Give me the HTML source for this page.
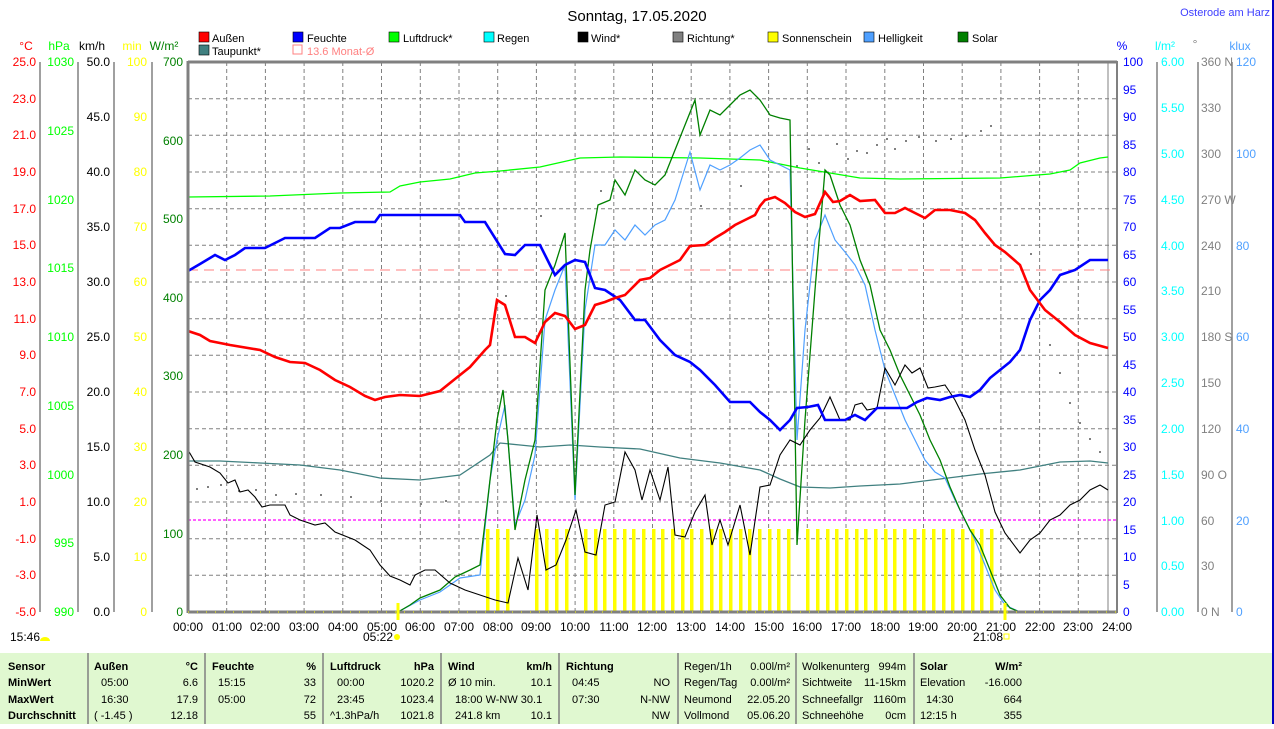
<!DOCTYPE html>
<html><head><meta charset="utf-8"><style>
html,body{margin:0;padding:0;background:#fff;}
body{width:1274px;height:724px;overflow:hidden;position:relative;font-family:"Liberation Sans",sans-serif;}
svg text{font-family:"Liberation Sans",sans-serif;font-size:12px;}
</style></head><body>
<svg width="1274" height="724" viewBox="0 0 1274 724" xmlns="http://www.w3.org/2000/svg">
<rect x="0" y="0" width="1274" height="724" fill="#fff"/>
<line x1="1273" y1="0" x2="1273" y2="724" stroke="#0000c0" stroke-width="2"/>
<text x="637" y="21" text-anchor="middle" font-size="15" style="font-size:15px" fill="#000">Sonntag, 17.05.2020</text>
<text x="1270" y="16" text-anchor="end" fill="#4040ff" style="font-size:11px">Osterode am Harz</text>

<!-- legend -->
<g style="font-size:11px">
<rect x="199" y="32" width="10" height="10" fill="#f00" stroke="#000" stroke-width="0.6"/><text x="212" y="42" style="font-size:11px">Außen</text>
<rect x="293" y="32" width="10" height="10" fill="#00f" stroke="#000" stroke-width="0.6"/><text x="307" y="42" style="font-size:11px">Feuchte</text>
<rect x="389" y="32" width="10" height="10" fill="#0f0" stroke="#000" stroke-width="0.6"/><text x="403" y="42" style="font-size:11px">Luftdruck*</text>
<rect x="484" y="32" width="10" height="10" fill="#0ff" stroke="#000" stroke-width="0.6"/><text x="497" y="42" style="font-size:11px">Regen</text>
<rect x="578" y="32" width="10" height="10" fill="#000" stroke="#000" stroke-width="0.6"/><text x="591" y="42" style="font-size:11px">Wind*</text>
<rect x="673" y="32" width="10" height="10" fill="#808080" stroke="#000" stroke-width="0.6"/><text x="687" y="42" style="font-size:11px">Richtung*</text>
<rect x="768" y="32" width="10" height="10" fill="#ff0" stroke="#000" stroke-width="0.6"/><text x="782" y="42" style="font-size:11px">Sonnenschein</text>
<rect x="864" y="32" width="10" height="10" fill="#4fa0ff" stroke="#000" stroke-width="0.6"/><text x="878" y="42" style="font-size:11px">Helligkeit</text>
<rect x="958" y="32" width="10" height="10" fill="#008000" stroke="#000" stroke-width="0.6"/><text x="972" y="42" style="font-size:11px">Solar</text>
<rect x="199" y="45" width="10" height="10" fill="#408080" stroke="#000" stroke-width="0.6"/><text x="212" y="55" style="font-size:11px">Taupunkt*</text>
<rect x="293" y="45" width="9" height="9" fill="none" stroke="#ff8080" stroke-width="1"/><text x="307" y="55" fill="#ff8080" style="font-size:11px">13.6 Monat-Ø</text>
</g>

<!-- axis headers -->
<text x="26" y="50" text-anchor="middle" fill="#f00">°C</text>
<text x="59" y="50" text-anchor="middle" fill="#0f0">hPa</text>
<text x="92" y="50" text-anchor="middle">km/h</text>
<text x="132" y="50" text-anchor="middle" fill="#ff0">min</text>
<text x="164" y="50" text-anchor="middle" fill="#008000">W/m²</text>
<text x="1122" y="50" text-anchor="middle" fill="#00f">%</text>
<text x="1165" y="50" text-anchor="middle" fill="#0ff">l/m²</text>
<text x="1195" y="48" text-anchor="middle" fill="#808080">°</text>
<text x="1240" y="50" text-anchor="middle" fill="#4fa0ff">klux</text>

<!-- grid -->
<g stroke="#808080" stroke-dasharray="4,3" stroke-width="1">
<line x1="188" y1="98.7" x2="1117" y2="98.7"/><line x1="188" y1="135.3" x2="1117" y2="135.3"/>
<line x1="188" y1="172" x2="1117" y2="172"/><line x1="188" y1="208.7" x2="1117" y2="208.7"/>
<line x1="188" y1="245.3" x2="1117" y2="245.3"/><line x1="188" y1="282" x2="1117" y2="282"/>
<line x1="188" y1="318.7" x2="1117" y2="318.7"/><line x1="188" y1="355.3" x2="1117" y2="355.3"/>
<line x1="188" y1="392" x2="1117" y2="392"/><line x1="188" y1="428.7" x2="1117" y2="428.7"/>
<line x1="188" y1="465.3" x2="1117" y2="465.3"/><line x1="188" y1="502" x2="1117" y2="502"/>
<line x1="188" y1="538.7" x2="1117" y2="538.7"/><line x1="188" y1="575.3" x2="1117" y2="575.3"/>
<line x1="226.7" y1="62" x2="226.7" y2="612"/><line x1="265.4" y1="62" x2="265.4" y2="612"/>
<line x1="304.1" y1="62" x2="304.1" y2="612"/><line x1="342.8" y1="62" x2="342.8" y2="612"/>
<line x1="381.5" y1="62" x2="381.5" y2="612"/><line x1="420.3" y1="62" x2="420.3" y2="612"/>
<line x1="459" y1="62" x2="459" y2="612"/><line x1="497.7" y1="62" x2="497.7" y2="612"/>
<line x1="536.4" y1="62" x2="536.4" y2="612"/><line x1="575.1" y1="62" x2="575.1" y2="612"/>
<line x1="613.8" y1="62" x2="613.8" y2="612"/><line x1="652.5" y1="62" x2="652.5" y2="612"/>
<line x1="691.2" y1="62" x2="691.2" y2="612"/><line x1="729.9" y1="62" x2="729.9" y2="612"/>
<line x1="768.6" y1="62" x2="768.6" y2="612"/><line x1="807.3" y1="62" x2="807.3" y2="612"/>
<line x1="846" y1="62" x2="846" y2="612"/><line x1="884.8" y1="62" x2="884.8" y2="612"/>
<line x1="923.5" y1="62" x2="923.5" y2="612"/><line x1="962.2" y1="62" x2="962.2" y2="612"/>
<line x1="1000.9" y1="62" x2="1000.9" y2="612"/><line x1="1039.6" y1="62" x2="1039.6" y2="612"/>
<line x1="1078.3" y1="62" x2="1078.3" y2="612"/>
</g>
<line x1="1108" y1="62" x2="1108" y2="612" stroke="#808080" stroke-width="1"/>

<!-- sunshine bars -->
<g fill="#ff0">
<rect x="486" y="529" width="3.5" height="83"/><rect x="496" y="529" width="3.5" height="83"/><rect x="506" y="529" width="3.5" height="83"/>
<rect x="535" y="529" width="3.5" height="83"/><rect x="545" y="529" width="3.5" height="83"/><rect x="555" y="529" width="3.5" height="83"/><rect x="565" y="529" width="3.5" height="83"/>
<rect x="584" y="529" width="3.5" height="83"/><rect x="594" y="529" width="3.5" height="83"/><rect x="603" y="529" width="3.5" height="83"/><rect x="613" y="529" width="3.5" height="83"/><rect x="623" y="529" width="3.5" height="83"/><rect x="632" y="529" width="3.5" height="83"/><rect x="642" y="529" width="3.5" height="83"/><rect x="652" y="529" width="3.5" height="83"/><rect x="661" y="529" width="3.5" height="83"/><rect x="671" y="529" width="3.5" height="83"/><rect x="681" y="529" width="3.5" height="83"/><rect x="690" y="529" width="3.5" height="83"/><rect x="700" y="529" width="3.5" height="83"/><rect x="710" y="529" width="3.5" height="83"/><rect x="719" y="529" width="3.5" height="83"/><rect x="729" y="529" width="3.5" height="83"/><rect x="739" y="529" width="3.5" height="83"/><rect x="748" y="529" width="3.5" height="83"/><rect x="758" y="529" width="3.5" height="83"/><rect x="768" y="529" width="3.5" height="83"/><rect x="777" y="529" width="3.5" height="83"/><rect x="787" y="529" width="3.5" height="83"/>
<rect x="806" y="529" width="3.5" height="83"/><rect x="816" y="529" width="3.5" height="83"/><rect x="826" y="529" width="3.5" height="83"/><rect x="835" y="529" width="3.5" height="83"/><rect x="845" y="529" width="3.5" height="83"/><rect x="855" y="529" width="3.5" height="83"/><rect x="864" y="529" width="3.5" height="83"/><rect x="874" y="529" width="3.5" height="83"/><rect x="884" y="529" width="3.5" height="83"/><rect x="893" y="529" width="3.5" height="83"/><rect x="903" y="529" width="3.5" height="83"/><rect x="913" y="529" width="3.5" height="83"/><rect x="922" y="529" width="3.5" height="83"/><rect x="932" y="529" width="3.5" height="83"/><rect x="942" y="529" width="3.5" height="83"/><rect x="951" y="529" width="3.5" height="83"/><rect x="961" y="529" width="3.5" height="83"/><rect x="971" y="529" width="3.5" height="83"/><rect x="980" y="529" width="3.5" height="83"/><rect x="990" y="529" width="3.5" height="83"/>
</g>

<line x1="188" y1="520" x2="1117" y2="520" stroke="#f0f" stroke-dasharray="3,2" stroke-width="1.2"/>
<line x1="188" y1="270" x2="1117" y2="270" stroke="#ff8080" stroke-dasharray="10,6" stroke-width="1"/>

<!-- direction dots -->
<g fill="#808080">
<rect x="196" y="488" width="2" height="2"/><rect x="207" y="486" width="2" height="2"/><rect x="220" y="484" width="2" height="2"/><rect x="238" y="490" width="2" height="2"/><rect x="255" y="489" width="2" height="2"/><rect x="275" y="494" width="2" height="2"/><rect x="295" y="493" width="2" height="2"/><rect x="320" y="494" width="2" height="2"/><rect x="350" y="496" width="2" height="2"/><rect x="380" y="500" width="2" height="2"/><rect x="420" y="503" width="2" height="2"/><rect x="445" y="500" width="2" height="2"/>
<rect x="505" y="295" width="2" height="2"/><rect x="540" y="215" width="2" height="2"/><rect x="600" y="190" width="2" height="2"/><rect x="700" y="205" width="2" height="2"/><rect x="740" y="185" width="2" height="2"/>
<rect x="796" y="165" width="2" height="2"/><rect x="808" y="148" width="2" height="2"/><rect x="818" y="162" width="2" height="2"/><rect x="836" y="143" width="2" height="2"/><rect x="847" y="158" width="2" height="2"/><rect x="856" y="150" width="2" height="2"/><rect x="866" y="152" width="2" height="2"/><rect x="876" y="144" width="2" height="2"/><rect x="886" y="138" width="2" height="2"/><rect x="894" y="148" width="2" height="2"/><rect x="905" y="140" width="2" height="2"/><rect x="918" y="136" width="2" height="2"/><rect x="935" y="140" width="2" height="2"/><rect x="950" y="138" width="2" height="2"/><rect x="965" y="135" width="2" height="2"/><rect x="980" y="130" width="2" height="2"/><rect x="990" y="125" width="2" height="2"/>
<rect x="1030" y="253" width="2" height="2"/><rect x="1049" y="344" width="2" height="2"/><rect x="1059" y="372" width="2" height="2"/><rect x="1069" y="402" width="2" height="2"/><rect x="1079" y="422" width="2" height="2"/><rect x="1089" y="438" width="2" height="2"/><rect x="1099" y="451" width="2" height="2"/>
</g>

<!-- series -->
<polyline fill="none" stroke="#408080" stroke-width="1.3" points="188,461 220,461 260,463 300,465 340,470 380,478 420,480 460,475 490,455 500,443 520,445 540,447 570,445 600,447 640,449 680,458 720,463 760,470 780,479 800,487 830,488 860,486 900,484 940,479 980,474 1020,470 1060,462 1090,461 1108,463"/>
<polyline fill="none" stroke="#00ff00" stroke-width="1.3" points="188,197 270,196 340,193 390,192 400,186 420,182 450,179 475,173 500,171 540,167 580,158 620,157 700,158 760,160 800,168 860,178 900,179 1000,178 1050,174 1070,170 1080,163 1100,158 1108,157"/>
<polyline fill="none" stroke="#4fa0ff" stroke-width="1.2" points="398,612 420,600 440,592 460,578 480,575 490,480 497,440 505,405 515,525 525,500 535,455 545,320 555,290 565,265 575,500 585,310 595,245 605,245 615,230 625,240 635,225 645,235 655,225 665,220 675,200 690,152 700,190 710,165 720,170 730,165 740,158 750,150 760,145 770,160 780,165 790,170 797,440 805,330 815,240 825,215 835,240 845,252 855,265 865,285 875,330 885,370 895,395 905,420 915,440 925,460 935,472 945,478 955,500 965,520 975,540 985,565 995,590 1005,605 1020,612"/>
<polyline fill="none" stroke="#008000" stroke-width="1.3" points="398,612 410,605 420,598 440,590 455,577 470,570 480,565 490,480 497,420 503,390 508,440 515,530 525,480 535,440 545,290 555,265 565,233 575,495 585,290 590,250 598,205 610,200 615,180 625,195 635,170 645,180 655,185 665,175 675,150 685,125 695,100 700,135 710,110 720,115 730,105 740,95 750,90 760,100 770,115 780,118 790,120 797,545 805,420 815,290 825,170 830,175 840,205 850,225 860,260 870,285 880,330 890,350 900,375 910,395 920,415 930,440 940,460 950,487 960,510 970,530 980,545 990,570 1000,595 1010,608 1020,612"/>
<polyline fill="none" stroke="#000" stroke-width="1.1" points="188,450 195,462 210,467 220,473 228,483 235,480 240,492 248,490 255,497 262,507 270,505 285,505 290,515 300,520 315,525 325,523 335,532 355,540 370,550 380,565 390,576 400,580 410,585 415,575 425,570 435,570 450,583 465,590 480,595 495,600 508,603 518,558 528,590 537,515 546,570 556,565 566,540 576,510 585,552 596,555 605,505 615,502 625,452 635,470 642,500 650,470 660,500 668,467 675,535 685,537 695,512 705,495 712,545 720,520 728,545 740,505 750,555 760,487 770,485 780,455 790,440 800,445 810,430 820,418 830,397 840,420 850,420 855,405 862,403 867,410 877,408 885,368 895,385 905,365 912,373 920,368 928,388 935,387 945,385 955,400 965,420 975,450 985,475 995,512 1005,533 1020,553 1030,540 1040,533 1050,520 1060,515 1070,505 1080,500 1090,490 1100,485 1108,490"/>
<polyline fill="none" stroke="#00f" stroke-width="2.6" points="188,271 200,264 215,255 225,260 235,255 245,248 265,248 285,238 315,238 330,228 340,228 355,222 375,222 380,215 460,215 465,222 485,222 505,254 515,255 525,245 540,245 555,275 565,265 575,260 585,262 595,288 605,290 620,300 635,320 645,320 660,340 675,355 690,362 700,370 715,385 730,402 750,402 760,412 770,420 780,430 790,420 797,408 808,407 818,405 825,420 845,420 855,415 865,420 877,408 907,408 917,402 927,398 940,400 950,397 960,395 970,397 980,390 990,378 1000,370 1010,362 1020,350 1030,320 1040,300 1050,290 1060,275 1075,270 1090,260 1108,260"/>
<polyline fill="none" stroke="#f00" stroke-width="2.6" points="188,331 200,335 210,341 230,345 260,350 275,357 290,362 305,363 320,370 335,380 350,387 365,396 375,400 385,397 400,395 420,396 440,391 455,379 470,367 485,350 490,345 497,300 505,305 515,337 525,337 535,343 545,322 555,313 565,316 575,329 585,325 595,305 605,302 615,298 625,295 630,290 640,280 650,278 660,270 670,265 680,260 690,246 705,245 715,238 725,232 735,225 745,220 755,215 760,206 765,200 775,197 785,203 795,212 805,217 815,214 825,192 833,202 840,201 850,195 860,201 875,200 885,213 895,213 905,208 915,213 925,218 935,210 950,210 965,213 975,220 985,233 995,245 1005,252 1020,265 1030,290 1045,310 1060,322 1075,335 1090,343 1108,348"/>

<!-- frame -->
<line x1="188" y1="62" x2="1117" y2="62" stroke="#808080" stroke-width="3"/>
<line x1="188" y1="612" x2="1117" y2="612" stroke="#808080" stroke-width="3"/>
<line x1="188" y1="61" x2="188" y2="613" stroke="#808080" stroke-width="3"/>
<line x1="1117" y1="61" x2="1117" y2="613" stroke="#808080" stroke-width="2"/>
<line x1="188" y1="612" x2="1117" y2="612" stroke="#ff0" stroke-width="1" stroke-dasharray="1,8"/>
<line x1="398" y1="603" x2="398" y2="620" stroke="#ff0" stroke-width="3"/>
<line x1="1005" y1="603" x2="1005" y2="620" stroke="#ff0" stroke-width="3"/>

<!-- left axes lines -->
<g stroke="#808080" stroke-width="1.5">
<line x1="40" y1="62" x2="40" y2="612"/><line x1="78" y1="62" x2="78" y2="612"/><line x1="114" y1="62" x2="114" y2="612"/><line x1="152" y1="62" x2="152" y2="612"/>
<line x1="1157" y1="62" x2="1157" y2="612"/><line x1="1198" y1="62" x2="1198" y2="612"/><line x1="1232" y1="62" x2="1232" y2="612"/>
</g>
<!-- °C -->
<g fill="#f00" text-anchor="end">
<text x="36" y="66">25.0</text><text x="36" y="103">23.0</text><text x="36" y="139">21.0</text><text x="36" y="176">19.0</text><text x="36" y="213">17.0</text><text x="36" y="249">15.0</text><text x="36" y="286">13.0</text><text x="36" y="323">11.0</text><text x="36" y="359">9.0</text><text x="36" y="396">7.0</text><text x="36" y="433">5.0</text><text x="36" y="469">3.0</text><text x="36" y="506">1.0</text><text x="36" y="543">-1.0</text><text x="36" y="579">-3.0</text><text x="36" y="616">-5.0</text>
</g>
<g fill="#0f0" text-anchor="end">
<text x="74" y="66">1030</text><text x="74" y="135">1025</text><text x="74" y="204">1020</text><text x="74" y="272">1015</text><text x="74" y="341">1010</text><text x="74" y="410">1005</text><text x="74" y="479">1000</text><text x="74" y="547">995</text><text x="74" y="616">990</text>
</g>
<g fill="#000" text-anchor="end">
<text x="110" y="66">50.0</text><text x="110" y="121">45.0</text><text x="110" y="176">40.0</text><text x="110" y="231">35.0</text><text x="110" y="286">30.0</text><text x="110" y="341">25.0</text><text x="110" y="396">20.0</text><text x="110" y="451">15.0</text><text x="110" y="506">10.0</text><text x="110" y="561">5.0</text><text x="110" y="616">0.0</text>
</g>
<g fill="#ff0" text-anchor="end">
<text x="147" y="66">100</text><text x="147" y="121">90</text><text x="147" y="176">80</text><text x="147" y="231">70</text><text x="147" y="286">60</text><text x="147" y="341">50</text><text x="147" y="396">40</text><text x="147" y="451">30</text><text x="147" y="506">20</text><text x="147" y="561">10</text><text x="147" y="616">0</text>
</g>
<g fill="#008000" text-anchor="end">
<text x="183" y="66">700</text><text x="183" y="145">600</text><text x="183" y="223">500</text><text x="183" y="302">400</text><text x="183" y="380">300</text><text x="183" y="459">200</text><text x="183" y="538">100</text><text x="183" y="616">0</text>
</g>
<!-- right % -->
<g fill="#00f">
<text x="1123" y="66">100</text><text x="1123" y="94">95</text><text x="1123" y="121">90</text><text x="1123" y="149">85</text><text x="1123" y="176">80</text><text x="1123" y="204">75</text><text x="1123" y="231">70</text><text x="1123" y="259">65</text><text x="1123" y="286">60</text><text x="1123" y="314">55</text><text x="1123" y="341">50</text><text x="1123" y="369">45</text><text x="1123" y="396">40</text><text x="1123" y="424">35</text><text x="1123" y="451">30</text><text x="1123" y="479">25</text><text x="1123" y="506">20</text><text x="1123" y="534">15</text><text x="1123" y="561">10</text><text x="1123" y="589">5</text><text x="1123" y="616">0</text>
</g>
<g fill="#0ff">
<text x="1161" y="66">6.00</text><text x="1161" y="112">5.50</text><text x="1161" y="158">5.00</text><text x="1161" y="204">4.50</text><text x="1161" y="250">4.00</text><text x="1161" y="295">3.50</text><text x="1161" y="341">3.00</text><text x="1161" y="387">2.50</text><text x="1161" y="433">2.00</text><text x="1161" y="479">1.50</text><text x="1161" y="525">1.00</text><text x="1161" y="570">0.50</text><text x="1161" y="616">0.00</text>
</g>
<g fill="#808080">
<text x="1201" y="66">360 N</text><text x="1201" y="112">330</text><text x="1201" y="158">300</text><text x="1201" y="204">270 W</text><text x="1201" y="250">240</text><text x="1201" y="295">210</text><text x="1201" y="341">180 S</text><text x="1201" y="387">150</text><text x="1201" y="433">120</text><text x="1201" y="479">90  O</text><text x="1201" y="525">60</text><text x="1201" y="570">30</text><text x="1201" y="616">0    N</text>
</g>
<g fill="#4fa0ff">
<text x="1236" y="66">120</text><text x="1236" y="158">100</text><text x="1236" y="250">80</text><text x="1236" y="341">60</text><text x="1236" y="433">40</text><text x="1236" y="525">20</text><text x="1236" y="616">0</text>
</g>

<!-- time labels -->
<g text-anchor="middle">
<text x="188" y="631">00:00</text><text x="227" y="631">01:00</text><text x="265" y="631">02:00</text><text x="304" y="631">03:00</text><text x="343" y="631">04:00</text><text x="382" y="631">05:00</text><text x="420" y="631">06:00</text><text x="459" y="631">07:00</text><text x="498" y="631">08:00</text><text x="536" y="631">09:00</text><text x="575" y="631">10:00</text><text x="614" y="631">11:00</text><text x="652" y="631">12:00</text><text x="691" y="631">13:00</text><text x="730" y="631">14:00</text><text x="769" y="631">15:00</text><text x="807" y="631">16:00</text><text x="846" y="631">17:00</text><text x="885" y="631">18:00</text><text x="923" y="631">19:00</text><text x="962" y="631">20:00</text><text x="1001" y="631">21:00</text><text x="1040" y="631">22:00</text><text x="1078" y="631">23:00</text><text x="1117" y="631">24:00</text>
</g>
<text x="10" y="641">15:46</text><path d="M40,641 a5,4 0 0 1 10,0 z" fill="#ff0"/>
<text x="363" y="641">05:22</text><circle cx="397" cy="637" r="3" fill="#ff0"/>
<text x="973" y="641">21:08</text><rect x="1004" y="634" width="5" height="5" fill="none" stroke="#ff0"/>

<!-- table -->
<rect x="0" y="653" width="1272" height="71" fill="#e0f8d0"/>
<g stroke="#808080" stroke-width="1.5">
<line x1="88" y1="653" x2="88" y2="724"/><line x1="205" y1="653" x2="205" y2="724"/><line x1="323" y1="653" x2="323" y2="724"/><line x1="441" y1="653" x2="441" y2="724"/><line x1="559" y1="653" x2="559" y2="724"/><line x1="678" y1="653" x2="678" y2="724"/><line x1="796" y1="653" x2="796" y2="724"/><line x1="914" y1="653" x2="914" y2="724"/>
</g>
<g style="font-size:11px" font-weight="bold">
<text x="8" y="670" style="font-size:11px;font-weight:bold">Sensor</text>
<text x="8" y="686" style="font-size:11px;font-weight:bold">MinWert</text>
<text x="8" y="703" style="font-size:11px;font-weight:bold">MaxWert</text>
<text x="8" y="719" style="font-size:11px;font-weight:bold">Durchschnitt</text>
<text x="94" y="670" style="font-size:11px;font-weight:bold">Außen</text><text x="198" y="670" text-anchor="end" style="font-size:11px;font-weight:bold">°C</text>
<text x="212" y="670" style="font-size:11px;font-weight:bold">Feuchte</text><text x="316" y="670" text-anchor="end" style="font-size:11px;font-weight:bold">%</text>
<text x="330" y="670" style="font-size:11px;font-weight:bold">Luftdruck</text><text x="434" y="670" text-anchor="end" style="font-size:11px;font-weight:bold">hPa</text>
<text x="448" y="670" style="font-size:11px;font-weight:bold">Wind</text><text x="552" y="670" text-anchor="end" style="font-size:11px;font-weight:bold">km/h</text>
<text x="566" y="670" style="font-size:11px;font-weight:bold">Richtung</text>
<text x="920" y="670" style="font-size:11px;font-weight:bold">Solar</text><text x="1022" y="670" text-anchor="end" style="font-size:11px;font-weight:bold">W/m²</text>
</g>
<g style="font-size:11px">
<text x="101" y="686" style="font-size:11px">05:00</text><text x="198" y="686" text-anchor="end" style="font-size:11px">6.6</text>
<text x="101" y="703" style="font-size:11px">16:30</text><text x="198" y="703" text-anchor="end" style="font-size:11px">17.9</text>
<text x="94" y="719" style="font-size:11px">( -1.45 )</text><text x="198" y="719" text-anchor="end" style="font-size:11px">12.18</text>
<text x="218" y="686" style="font-size:11px">15:15</text><text x="316" y="686" text-anchor="end" style="font-size:11px">33</text>
<text x="218" y="703" style="font-size:11px">05:00</text><text x="316" y="703" text-anchor="end" style="font-size:11px">72</text>
<text x="316" y="719" text-anchor="end" style="font-size:11px">55</text>
<text x="337" y="686" style="font-size:11px">00:00</text><text x="434" y="686" text-anchor="end" style="font-size:11px">1020.2</text>
<text x="337" y="703" style="font-size:11px">23:45</text><text x="434" y="703" text-anchor="end" style="font-size:11px">1023.4</text>
<text x="330" y="719" style="font-size:11px">^1.3hPa/h</text><text x="434" y="719" text-anchor="end" style="font-size:11px">1021.8</text>
<text x="448" y="686" style="font-size:11px">Ø 10 min.</text><text x="552" y="686" text-anchor="end" style="font-size:11px">10.1</text>
<text x="455" y="703" style="font-size:11px">18:00   W-NW 30.1</text>
<text x="455" y="719" style="font-size:11px">241.8 km</text><text x="552" y="719" text-anchor="end" style="font-size:11px">10.1</text>
<text x="572" y="686" style="font-size:11px">04:45</text><text x="670" y="686" text-anchor="end" style="font-size:11px">NO</text>
<text x="572" y="703" style="font-size:11px">07:30</text><text x="670" y="703" text-anchor="end" style="font-size:11px">N-NW</text>
<text x="670" y="719" text-anchor="end" style="font-size:11px">NW</text>
<text x="684" y="670" style="font-size:11px">Regen/1h</text><text x="790" y="670" text-anchor="end" style="font-size:11px">0.00l/m²</text>
<text x="684" y="686" style="font-size:11px">Regen/Tag</text><text x="790" y="686" text-anchor="end" style="font-size:11px">0.00l/m²</text>
<text x="684" y="703" style="font-size:11px">Neumond</text><text x="790" y="703" text-anchor="end" style="font-size:11px">22.05.20</text>
<text x="684" y="719" style="font-size:11px">Vollmond</text><text x="790" y="719" text-anchor="end" style="font-size:11px">05.06.20</text>
<text x="802" y="670" style="font-size:11px">Wolkenunterg</text><text x="906" y="670" text-anchor="end" style="font-size:11px">994m</text>
<text x="802" y="686" style="font-size:11px">Sichtweite</text><text x="906" y="686" text-anchor="end" style="font-size:11px">11-15km</text>
<text x="802" y="703" style="font-size:11px">Schneefallgr</text><text x="906" y="703" text-anchor="end" style="font-size:11px">1160m</text>
<text x="802" y="719" style="font-size:11px">Schneehöhe</text><text x="906" y="719" text-anchor="end" style="font-size:11px">0cm</text>
<text x="920" y="686" style="font-size:11px">Elevation</text><text x="1022" y="686" text-anchor="end" style="font-size:11px">-16.000</text>
<text x="926" y="703" style="font-size:11px">14:30</text><text x="1022" y="703" text-anchor="end" style="font-size:11px">664</text>
<text x="920" y="719" style="font-size:11px">12:15 h</text><text x="1022" y="719" text-anchor="end" style="font-size:11px">355</text>
</g>
</svg>
</body></html>
